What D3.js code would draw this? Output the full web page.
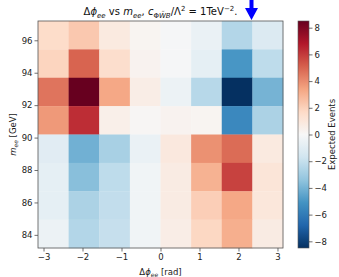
<!DOCTYPE html>
<html><head><meta charset="utf-8">
<script src="https://cdn.jsdelivr.net/npm/d3@7"></script>
<style>body{margin:0;background:#fff}svg{display:block;font-family:"DejaVu Sans",sans-serif}</style>
</head><body><svg id="c" width="339" height="277"></svg>
<script>
// bins
const xEdges = [-Math.PI, -3*Math.PI/4, -Math.PI/2, -Math.PI/4, 0, Math.PI/4, Math.PI/2, 3*Math.PI/4, Math.PI];
const yEdges = [83.19, 84.94, 86.69, 88.44, 90.19, 91.94, 93.69, 95.44, 97.19];
// values: rows from top (high m_ee) to bottom, columns from left to right
const rowTop0 = [1.6, 2.3, 0.8, 0.2, -0.1, -0.6, -2.5, -1.2];
const rowTop1 = [1.9, 5.0, 1.5, 0.3, -0.1, -0.8, -5.0, -2.2];
const rowTop2 = [4.6, 8.5, 3.3, 0.6, -0.5, -2.4, -8.5, -4.0];
const rowTop3 = [3.7, 6.3, 0.5, 0.1, 0.3, 0.2, -5.5, -2.7];
const rowTop4 = [-1.0, -4.1, -2.8, -0.6, 0.9, 3.9, 4.8, 0.8];
const rowTop5 = [-0.8, -3.6, -2.2, -0.3, 0.7, 3.0, 5.8, 1.1];
const rowTop6 = [-0.8, -2.7, -2.1, -0.3, 0.7, 2.1, 3.3, 1.0];
const rowTop7 = [-0.5, -2.5, -2.0, -0.3, 0.6, 1.8, 3.1, 0.7];
const rows = [rowTop0, rowTop1, rowTop2, rowTop3, rowTop4, rowTop5, rowTop6, rowTop7];
const xTicks = [-3, -2, -1, 0, 1, 2, 3];
const yTicks = [84, 86, 88, 90, 92, 94, 96];
const cTicks = [-8, -6, -4, -2, 0, 2, 4, 6, 8];
const vmax = 8.5;
const rdbuR = ["#053061","#2166ac","#4393c3","#92c5de","#d1e5f0","#f7f7f7","#fddbc7","#f4a582","#d6604d","#b2182b","#67001f"];

const svg = d3.select("#c");
const L = 38, R = 283, T = 21, B = 248;
const x = d3.scaleLinear().domain([-Math.PI, Math.PI]).range([L, R]);
const y = d3.scaleLinear().domain([83.19, 97.19]).range([B, T]);
const color = d3.scaleLinear().domain(d3.range(11).map(i => -vmax + i * 2 * vmax / 10)).range(rdbuR).clamp(true);
const fmt = v => (v < 0 ? "\u2212" + Math.abs(v) : String(v));

const cells = [];
rows.forEach((row, ri) => {
  const yi = 7 - ri;
  row.forEach((v, ci) => cells.push({x0: xEdges[ci], x1: xEdges[ci+1], y0: yEdges[yi], y1: yEdges[yi+1], v}));
});
svg.append("g").selectAll("rect").data(cells).join("rect")
  .attr("x", d => x(d.x0)).attr("y", d => y(d.y1))
  .attr("width", d => x(d.x1) - x(d.x0) + 0.3).attr("height", d => y(d.y0) - y(d.y1) + 0.3)
  .attr("fill", d => color(d.v));

const tickCol = "#333";
const gx = svg.append("g").attr("transform", `translate(0,${B})`)
  .call(d3.axisBottom(x).tickValues(xTicks).tickFormat(fmt).tickSize(3.5).tickPadding(2));
const gy = svg.append("g").attr("transform", `translate(${L},0)`)
  .call(d3.axisLeft(y).tickValues(yTicks).tickFormat(fmt).tickSize(3.5).tickPadding(2));
[gx, gy].forEach(g => {
  g.select(".domain").remove();
  g.selectAll("text").attr("font-size", 8.5).attr("fill", "#222").attr("font-family", "DejaVu Sans");
  g.selectAll("line").attr("stroke", tickCol).attr("stroke-width", 0.7);
});
svg.append("rect").attr("x", L).attr("y", T).attr("width", R - L).attr("height", B - T)
  .attr("fill", "none").attr("stroke", "#555").attr("stroke-width", 0.8);

// colorbar
const CL = 298, CR = 309;
const cy = d3.scaleLinear().domain([-vmax, vmax]).range([B, T]);
const defs = svg.append("defs");
const grad = defs.append("linearGradient").attr("id", "cb").attr("x1", 0).attr("y1", 1).attr("x2", 0).attr("y2", 0);
d3.range(0, 1.0001, 0.02).forEach(t => grad.append("stop").attr("offset", t).attr("stop-color", color(-vmax + t * 2 * vmax)));
svg.append("rect").attr("x", CL).attr("y", T).attr("width", CR - CL).attr("height", B - T)
  .attr("fill", "url(#cb)").attr("stroke", "#555").attr("stroke-width", 0.6);
const gc = svg.append("g").attr("transform", `translate(${CR},0)`)
  .call(d3.axisRight(cy).tickValues(cTicks).tickFormat(fmt).tickSize(3.5).tickPadding(2));
gc.select(".domain").remove();
gc.selectAll("text").attr("font-size", 8.5).attr("fill", "#222").attr("font-family", "DejaVu Sans");
gc.selectAll("line").attr("stroke", tickCol).attr("stroke-width", 0.7);
svg.append("text").attr("transform", `translate(335,${(T+B)/2}) rotate(-90)`)
  .attr("text-anchor", "middle").attr("font-size", 8.5).attr("fill", "#222").text("Expected Events");

// axis labels
const xl = svg.append("text").attr("x", (L+R)/2).attr("y", 275).attr("text-anchor", "middle").attr("font-size", 8.5).attr("fill", "#222");
xl.append("tspan").text("\u0394");
xl.append("tspan").attr("font-style", "italic").text("\u03d5");
xl.append("tspan").attr("font-style", "italic").attr("font-size", 6).attr("dy", 2).text("ee");
xl.append("tspan").attr("dy", -2).text(" [rad]");

const yl = svg.append("text").attr("transform", `translate(16,${(T+B)/2}) rotate(-90)`).attr("text-anchor", "middle").attr("font-size", 8.5).attr("fill", "#222");
yl.append("tspan").attr("font-style", "italic").text("m");
yl.append("tspan").attr("font-style", "italic").attr("font-size", 6).attr("dy", 2).text("ee");
yl.append("tspan").attr("dy", -2).text(" [GeV]");

// title
const tt = svg.append("text").attr("x", (L+R)/2).attr("y", 15).attr("text-anchor", "middle").attr("font-size", 10).attr("fill", "#111");
tt.append("tspan").text("\u0394");
tt.append("tspan").attr("font-style", "italic").text("\u03d5");
tt.append("tspan").attr("font-style", "italic").attr("font-size", 7).attr("dy", 2.5).text("ee");
tt.append("tspan").attr("dy", -2.5).text(" vs ");
tt.append("tspan").attr("font-style", "italic").text("m");
tt.append("tspan").attr("font-style", "italic").attr("font-size", 7).attr("dy", 2.5).text("ee");
tt.append("tspan").attr("dy", -2.5).text(",  ");
tt.append("tspan").attr("font-style", "italic").text("c");
tt.append("tspan").attr("font-size", 7).attr("dy", 2.5).text("\u03a6");
tt.append("tspan").attr("font-size", 7).attr("font-style", "italic").text("W\u0303B");
tt.append("tspan").attr("dy", -2.5).text("/\u039b");
tt.append("tspan").attr("font-size", 7).attr("dy", -4).text("2");
tt.append("tspan").attr("dy", 4).text(" = 1TeV");
tt.append("tspan").attr("font-size", 7).attr("dy", -4).text("\u22122");
tt.append("tspan").attr("dy", 4).text(".");

// annotation arrow
const ax = 251.5;
svg.append("path")
  .attr("d", `M${ax-2},0 L${ax+2},0 L${ax+2},8 L${ax+6.5},8 L${ax},20 L${ax-6.5},8 L${ax-2},8 Z`)
  .attr("fill", "#0000ff");
</script></body></html>
